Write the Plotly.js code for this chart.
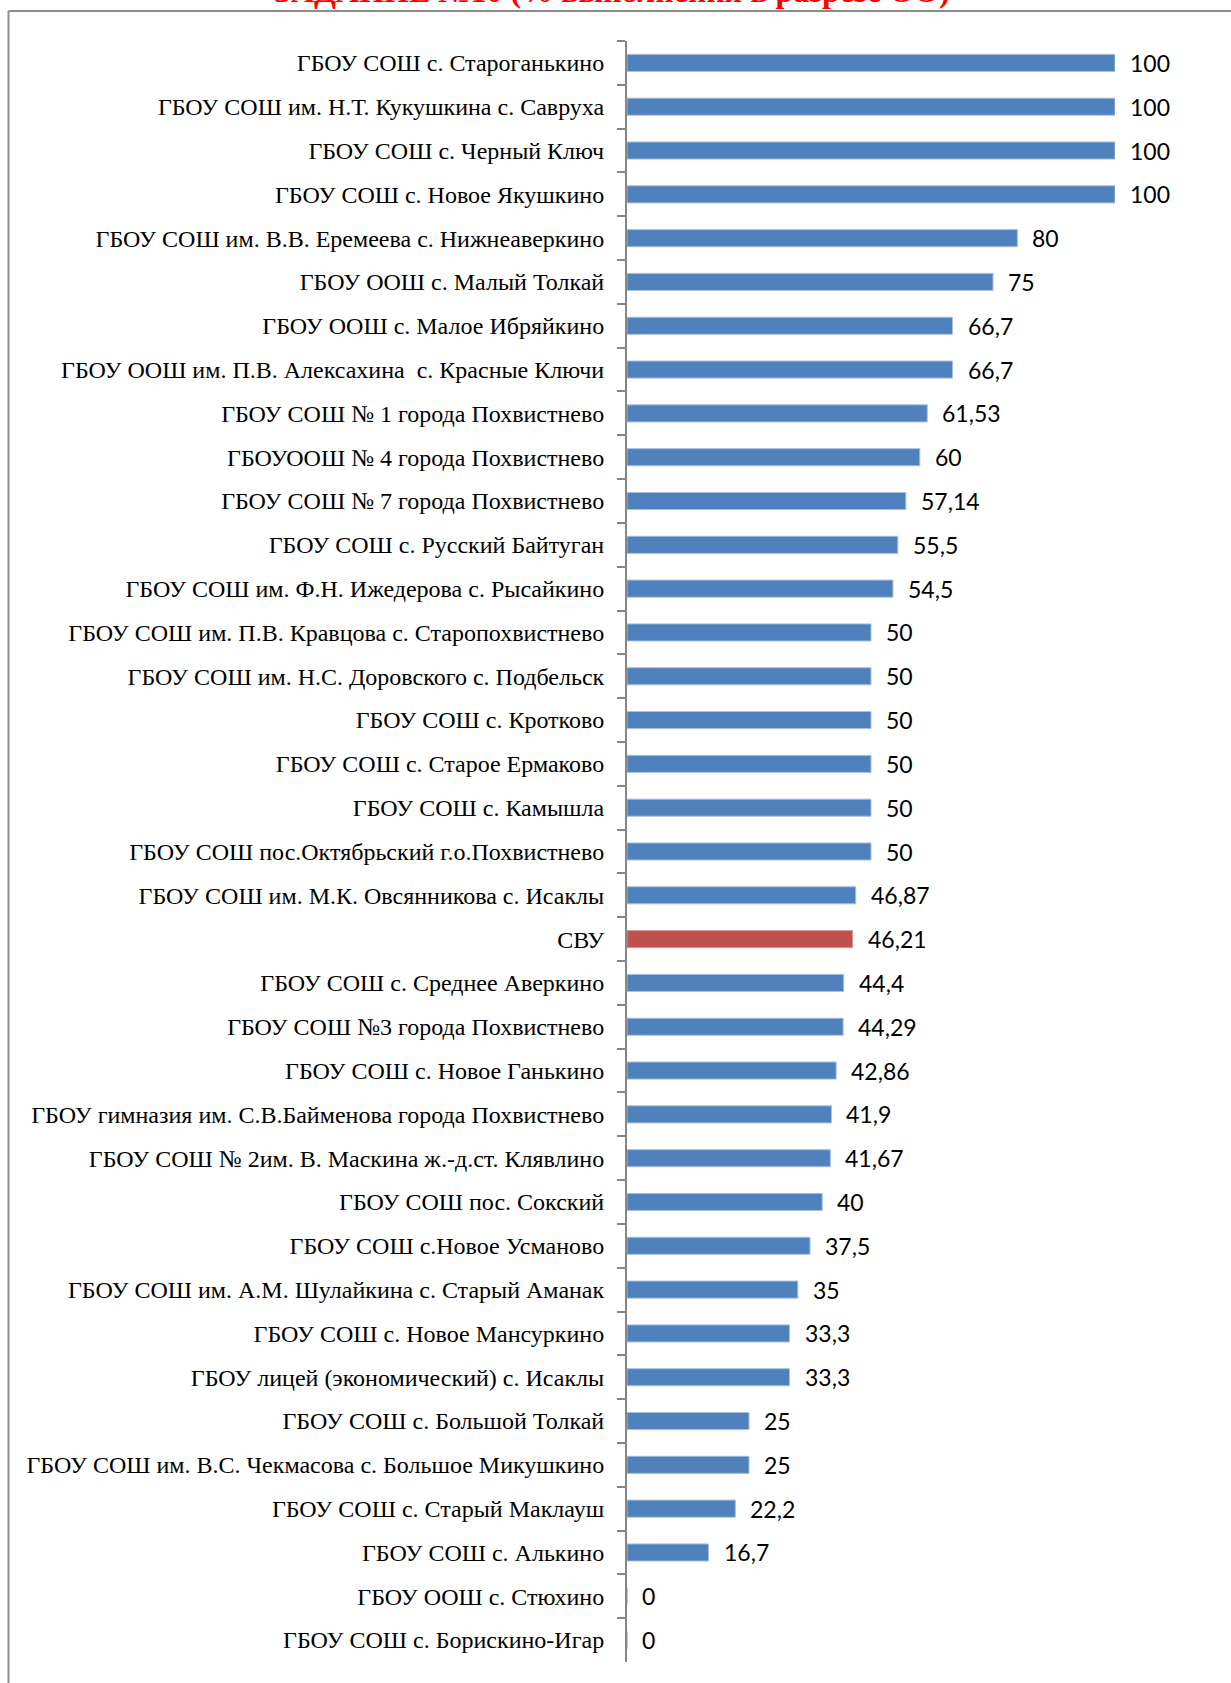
<!DOCTYPE html>
<html>
<head>
<meta charset="utf-8">
<script src="https://cdn.plot.ly/plotly-3.0.1.min.js"></script>
<style>
  html, body { margin: 0; padding: 0; background: #ffffff; }
  #chart { width: 1231px; height: 1683px; }
</style>
</head>
<body>
<div id="chart"></div>
<script>
// ---- data (top to bottom as drawn) ----
const schools = [
  "ГБОУ СОШ с. Староганькино",
  "ГБОУ СОШ им. Н.Т. Кукушкина с. Савруха",
  "ГБОУ СОШ с. Черный Ключ",
  "ГБОУ СОШ с. Новое Якушкино",
  "ГБОУ СОШ им. В.В. Еремеева с. Нижнеаверкино",
  "ГБОУ ООШ с. Малый Толкай",
  "ГБОУ ООШ с. Малое Ибряйкино",
  "ГБОУ ООШ им. П.В. Алексахина  с. Красные Ключи",
  "ГБОУ СОШ № 1 города Похвистнево",
  "ГБОУООШ № 4 города Похвистнево",
  "ГБОУ СОШ № 7 города Похвистнево",
  "ГБОУ СОШ с. Русский Байтуган",
  "ГБОУ СОШ им. Ф.Н. Ижедерова с. Рысайкино",
  "ГБОУ СОШ им. П.В. Кравцова с. Старопохвистнево",
  "ГБОУ СОШ им. Н.С. Доровского с. Подбельск",
  "ГБОУ СОШ с. Кротково",
  "ГБОУ СОШ с. Старое Ермаково",
  "ГБОУ СОШ с. Камышла",
  "ГБОУ СОШ пос.Октябрьский г.о.Похвистнево",
  "ГБОУ СОШ им. М.К. Овсянникова с. Исаклы",
  "СВУ",
  "ГБОУ СОШ с. Среднее Аверкино",
  "ГБОУ СОШ №3 города Похвистнево",
  "ГБОУ СОШ с. Новое Ганькино",
  "ГБОУ гимназия им. С.В.Байменова города Похвистнево",
  "ГБОУ СОШ № 2им. В. Маскина ж.-д.ст. Клявлино",
  "ГБОУ СОШ пос. Сокский",
  "ГБОУ СОШ с.Новое Усманово",
  "ГБОУ СОШ им. А.М. Шулайкина с. Старый Аманак",
  "ГБОУ СОШ с. Новое Мансуркино",
  "ГБОУ лицей (экономический) с. Исаклы",
  "ГБОУ СОШ с. Большой Толкай",
  "ГБОУ СОШ им. В.С. Чекмасова с. Большое Микушкино",
  "ГБОУ СОШ с. Старый Маклауш",
  "ГБОУ СОШ с. Алькино",
  "ГБОУ ООШ с. Стюхино",
  "ГБОУ СОШ с. Борискино-Игар"
];
const percentDone = [
  100, 100, 100, 100, 80, 75, 66.7, 66.7, 61.53, 60, 57.14, 55.5, 54.5,
  50, 50, 50, 50, 50, 50, 46.87, 46.21, 44.4, 44.29, 42.86, 41.9, 41.67,
  40, 37.5, 35, 33.3, 33.3, 25, 25, 22.2, 16.7, 0, 0
];
const highlighted = ["СВУ"];
const chartTitle = "ЗАДАНИЕ №10 (% выполнения в разрезе ОО)";

// ---- styles ----
const BLUE = "#4F81BD";
const RED = "#C0504D";
const fmt = v => String(v).replace(".", ",");

const barColors = schools.map(s => highlighted.includes(s) ? RED : BLUE);
const lineColors = schools.map(s => highlighted.includes(s) ? "#D99694" : "#A7C0DE");

const trace = {
  type: "bar",
  orientation: "h",
  x: percentDone,
  y: schools,
  marker: { color: barColors, line: { color: lineColors, width: 1 } },
  hoverinfo: "none",
  cliponaxis: false
};

const valueLabels = schools.map((s, i) => ({
  x: percentDone[i], y: s, xref: "x", yref: "y",
  text: fmt(percentDone[i]),
  showarrow: false, xanchor: "left", yanchor: "middle", xshift: 13,
  font: { family: "Lato, 'Liberation Sans', sans-serif", size: 23, color: "#000000" }
}));

const titleAnn = {
  xref: "paper", yref: "paper", x: -0.03, y: 1.0185,
  xanchor: "center", yanchor: "bottom", showarrow: false,
  text: "<b>" + chartTitle + "</b>",
  font: { family: "'Liberation Serif', 'Times New Roman', serif", size: 32, color: "#FF0000" }
};

// frame (left + top lines), in paper units relative to plot area
const plotL = 627, plotW = 488, plotT = 41, plotH = 1621;
const px2x = p => (p - plotL) / plotW;
const px2y = p => (plotT + plotH - p) / plotH;

const layout = {
  width: 1231, height: 1683,
  margin: { l: plotL, r: 1231 - plotL - plotW, t: plotT, b: 1683 - plotT - plotH, pad: 0 },
  paper_bgcolor: "#ffffff", plot_bgcolor: "rgba(0,0,0,0)",
  showlegend: false,
  bargap: 0.61,
  xaxis: {
    range: [0, 100], visible: false, showgrid: false, zeroline: false, fixedrange: true
  },
  yaxis: {
    type: "category", autorange: "reversed",
    showline: true, linecolor: "#868686", linewidth: 2,
    ticks: "outside", tickson: "boundaries", ticklen: 8, tickwidth: 2, tickcolor: "#868686",
    ticklabelstandoff: 16,
    showgrid: false, zeroline: false,
    tickfont: { family: "'Liberation Serif', 'Times New Roman', serif", size: 24, color: "#000000" }
  },
  annotations: valueLabels.concat([titleAnn]),
  shapes: [
    { type: "line", xref: "paper", yref: "paper", x0: px2x(8.5), x1: px2x(8.5), y0: px2y(11), y1: px2y(1700),
      line: { color: "#8C8C8C", width: 2 } },
    { type: "line", xref: "paper", yref: "paper", x0: px2x(8.5), x1: px2x(1240), y0: px2y(11), y1: px2y(11),
      line: { color: "#8C8C8C", width: 2 } }
  ]
};

Plotly.newPlot("chart", [trace], layout, { staticPlot: true, displayModeBar: false });
</script>
</body>
</html>
